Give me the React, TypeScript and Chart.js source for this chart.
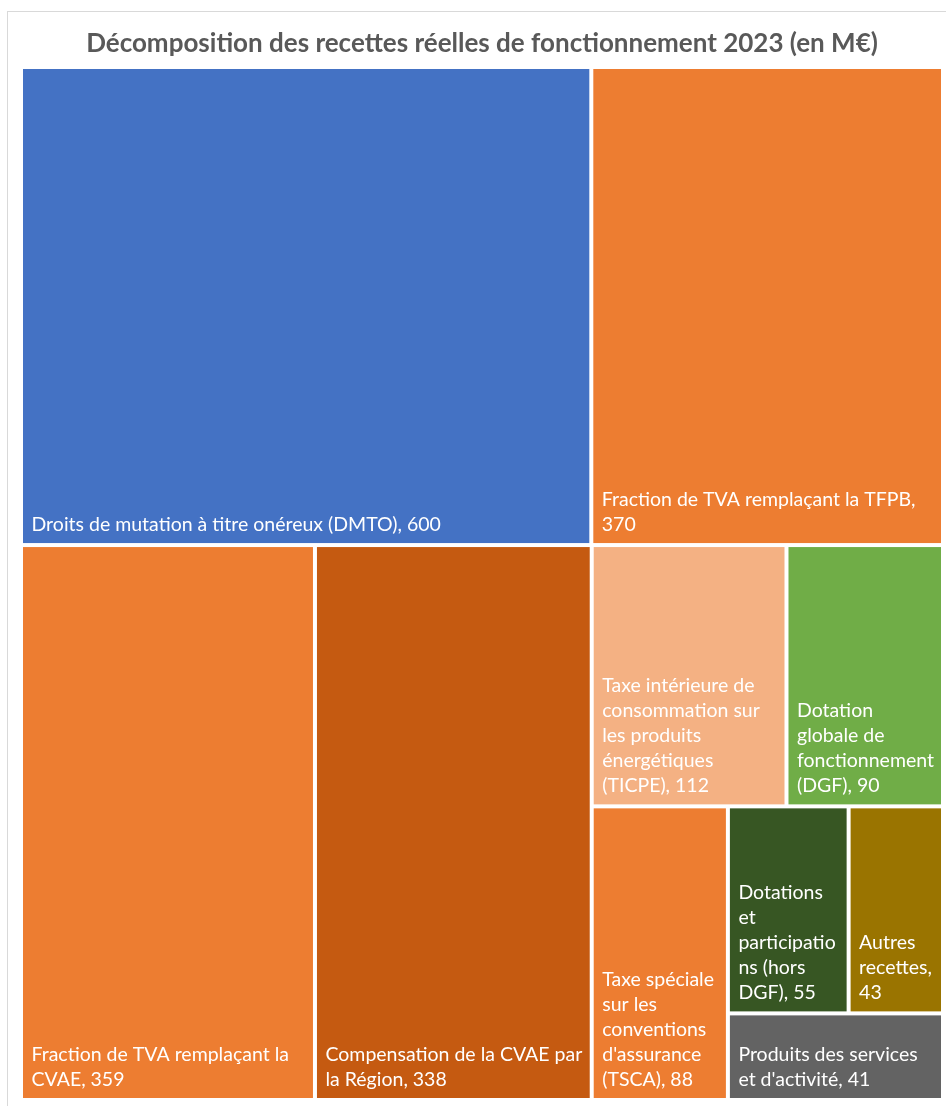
import React, { useEffect, useRef } from "react";
import { Chart, registerables } from "chart.js";

Chart.register(...registerables);

const chartTitle = "Décomposition des recettes réelles de fonctionnement 2023 (en M€)";

const categories = [
  "Droits de mutation à titre onéreux (DMTO)",
  "Fraction de TVA remplaçant la TFPB",
  "Fraction de TVA remplaçant la CVAE",
  "Compensation de la CVAE par la Région",
  "Taxe intérieure de consommation sur les produits énergétiques (TICPE)",
  "Dotation globale de fonctionnement (DGF)",
  "Taxe spéciale sur les conventions d'assurance (TSCA)",
  "Dotations et participations (hors DGF)",
  "Autres recettes",
  "Produits des services et d'activité",
];

const values = [600, 370, 359, 338, 112, 90, 88, 55, 43, 41];

const cellColors = [
  "#4472C4",
  "#ED7D31",
  "#ED7D31",
  "#C55A11",
  "#F4B183",
  "#70AD47",
  "#ED7D31",
  "#375623",
  "#9A7400",
  "#636363",
];

// number of consecutive cells grouped in each strip of the treemap
const stripSizes = [2, 1, 1, 2, 1, 2, 1];

const LABEL_FONT = "Lato";
const LABEL_SIZE = 19.5;
const LINE_H = 25;
const PAD_LEFT = 8.5;
const PAD_RIGHT = 6;
const PAD_BOTTOM = 12;
const GAP = 4;

type R = { x: number; y: number; w: number; h: number };

function layoutStrips(vals: number[], sizes: number[], aspect: number): R[] {
  // works in data units [0,1]x[0,1]; aspect = pixel width / pixel height
  const rects: R[] = [];
  let x0 = 0, y0 = 0, w = 1, h = 1;
  let remaining = vals.reduce((a, b) => a + b, 0);
  let idx = 0;
  for (const n of sizes) {
    const group = vals.slice(idx, idx + n);
    const gsum = group.reduce((a, b) => a + b, 0);
    const frac = gsum / remaining;
    if (w * aspect <= h) {
      const rh = h * frac;
      let cx = x0;
      for (const v of group) {
        const rw = (w * v) / gsum;
        rects.push({ x: cx, y: y0, w: rw, h: rh });
        cx += rw;
      }
      y0 += rh;
      h -= rh;
    } else {
      const cw = w * frac;
      let cy = y0;
      for (const v of group) {
        const ch = (h * v) / gsum;
        rects.push({ x: x0, y: cy, w: cw, h: ch });
        cy += ch;
      }
      x0 += cw;
      w -= cw;
    }
    remaining -= gsum;
    idx += n;
  }
  return rects;
}

function wrapText(ctx: CanvasRenderingContext2D, text: string, maxW: number): string[] {
  const words = text.split(" ");
  const lines: string[] = [];
  let line = "";
  for (const word of words) {
    const test = line ? line + " " + word : word;
    if (ctx.measureText(test).width <= maxW) {
      line = test;
      continue;
    }
    if (line) lines.push(line);
    if (ctx.measureText(word).width <= maxW) {
      line = word;
    } else {
      let part = "";
      for (const ch of word) {
        if (ctx.measureText(part + ch).width > maxW && part) {
          lines.push(part);
          part = ch;
        } else part += ch;
      }
      line = part;
    }
  }
  if (line) lines.push(line);
  return lines;
}

const treemapPlugin = {
  id: "treemapCells",
  afterDatasetsDraw(chart: any) {
    const { ctx, chartArea, scales } = chart;
    const xs = scales.x;
    const ys = scales.y;
    const aspect = (chartArea.right - chartArea.left) / (chartArea.bottom - chartArea.top);
    const rects = layoutStrips(values, stripSizes, aspect);
    ctx.save();
    rects.forEach((r, i) => {
      const left = xs.getPixelForValue(r.x) + GAP / 2;
      const right = xs.getPixelForValue(r.x + r.w) - GAP / 2;
      const top = ys.getPixelForValue(r.y) + GAP / 2;
      const bottom = ys.getPixelForValue(r.y + r.h) - GAP / 2;
      ctx.fillStyle = cellColors[i];
      ctx.fillRect(left, top, right - left, bottom - top);

      ctx.font = `${LABEL_SIZE}px ${LABEL_FONT}`;
      ctx.fillStyle = "#FFFFFF";
      ctx.textAlign = "left";
      ctx.textBaseline = "alphabetic";
      const lines = wrapText(ctx, `${categories[i]}, ${values[i]}`, right - left - PAD_LEFT - PAD_RIGHT);
      const n = lines.length;
      lines.forEach((ln, k) => {
        const yb = bottom - PAD_BOTTOM - (n - 1 - k) * LINE_H;
        ctx.fillText(ln, left + PAD_LEFT, yb);
      });
    });
    ctx.restore();
  },
};

export default function App() {
  const canvasRef = useRef<HTMLCanvasElement | null>(null);

  useEffect(() => {
    if (!canvasRef.current) return;
    const chart = new Chart(canvasRef.current, {
      type: "scatter",
      data: { datasets: [{ data: [] }] },
      options: {
        animation: false,
        responsive: false,
        maintainAspectRatio: false,
        layout: { padding: { left: 21, right: 3, top: 0, bottom: 6 } },
        scales: {
          x: { type: "linear", min: 0, max: 1, display: false },
          y: { type: "linear", min: 0, max: 1, reverse: true, display: false },
        },
        plugins: {
          legend: { display: false },
          tooltip: { enabled: false },
          title: {
            display: true,
            text: chartTitle,
            color: "#595959",
            font: { family: LABEL_FONT, size: 26, weight: "bold", lineHeight: 1.2 },
            padding: { top: 28, bottom: 7.8 },
          },
        },
      },
      plugins: [treemapPlugin],
    } as any);
    return () => chart.destroy();
  }, []);

  return (
    <div style={{ position: "fixed", left: 0, top: 0, width: 946, height: 1106, overflow: "hidden", background: "#FFFFFF" }}>
      <div
        style={{
          position: "absolute",
          left: 7,
          top: 11,
          width: 1000,
          height: 1200,
          border: "1px solid #D9D9D9",
          boxSizing: "border-box",
        }}
      />
      <canvas ref={canvasRef} width={946} height={1106} style={{ position: "absolute", left: 0, top: 0 }} />
    </div>
  );
}
